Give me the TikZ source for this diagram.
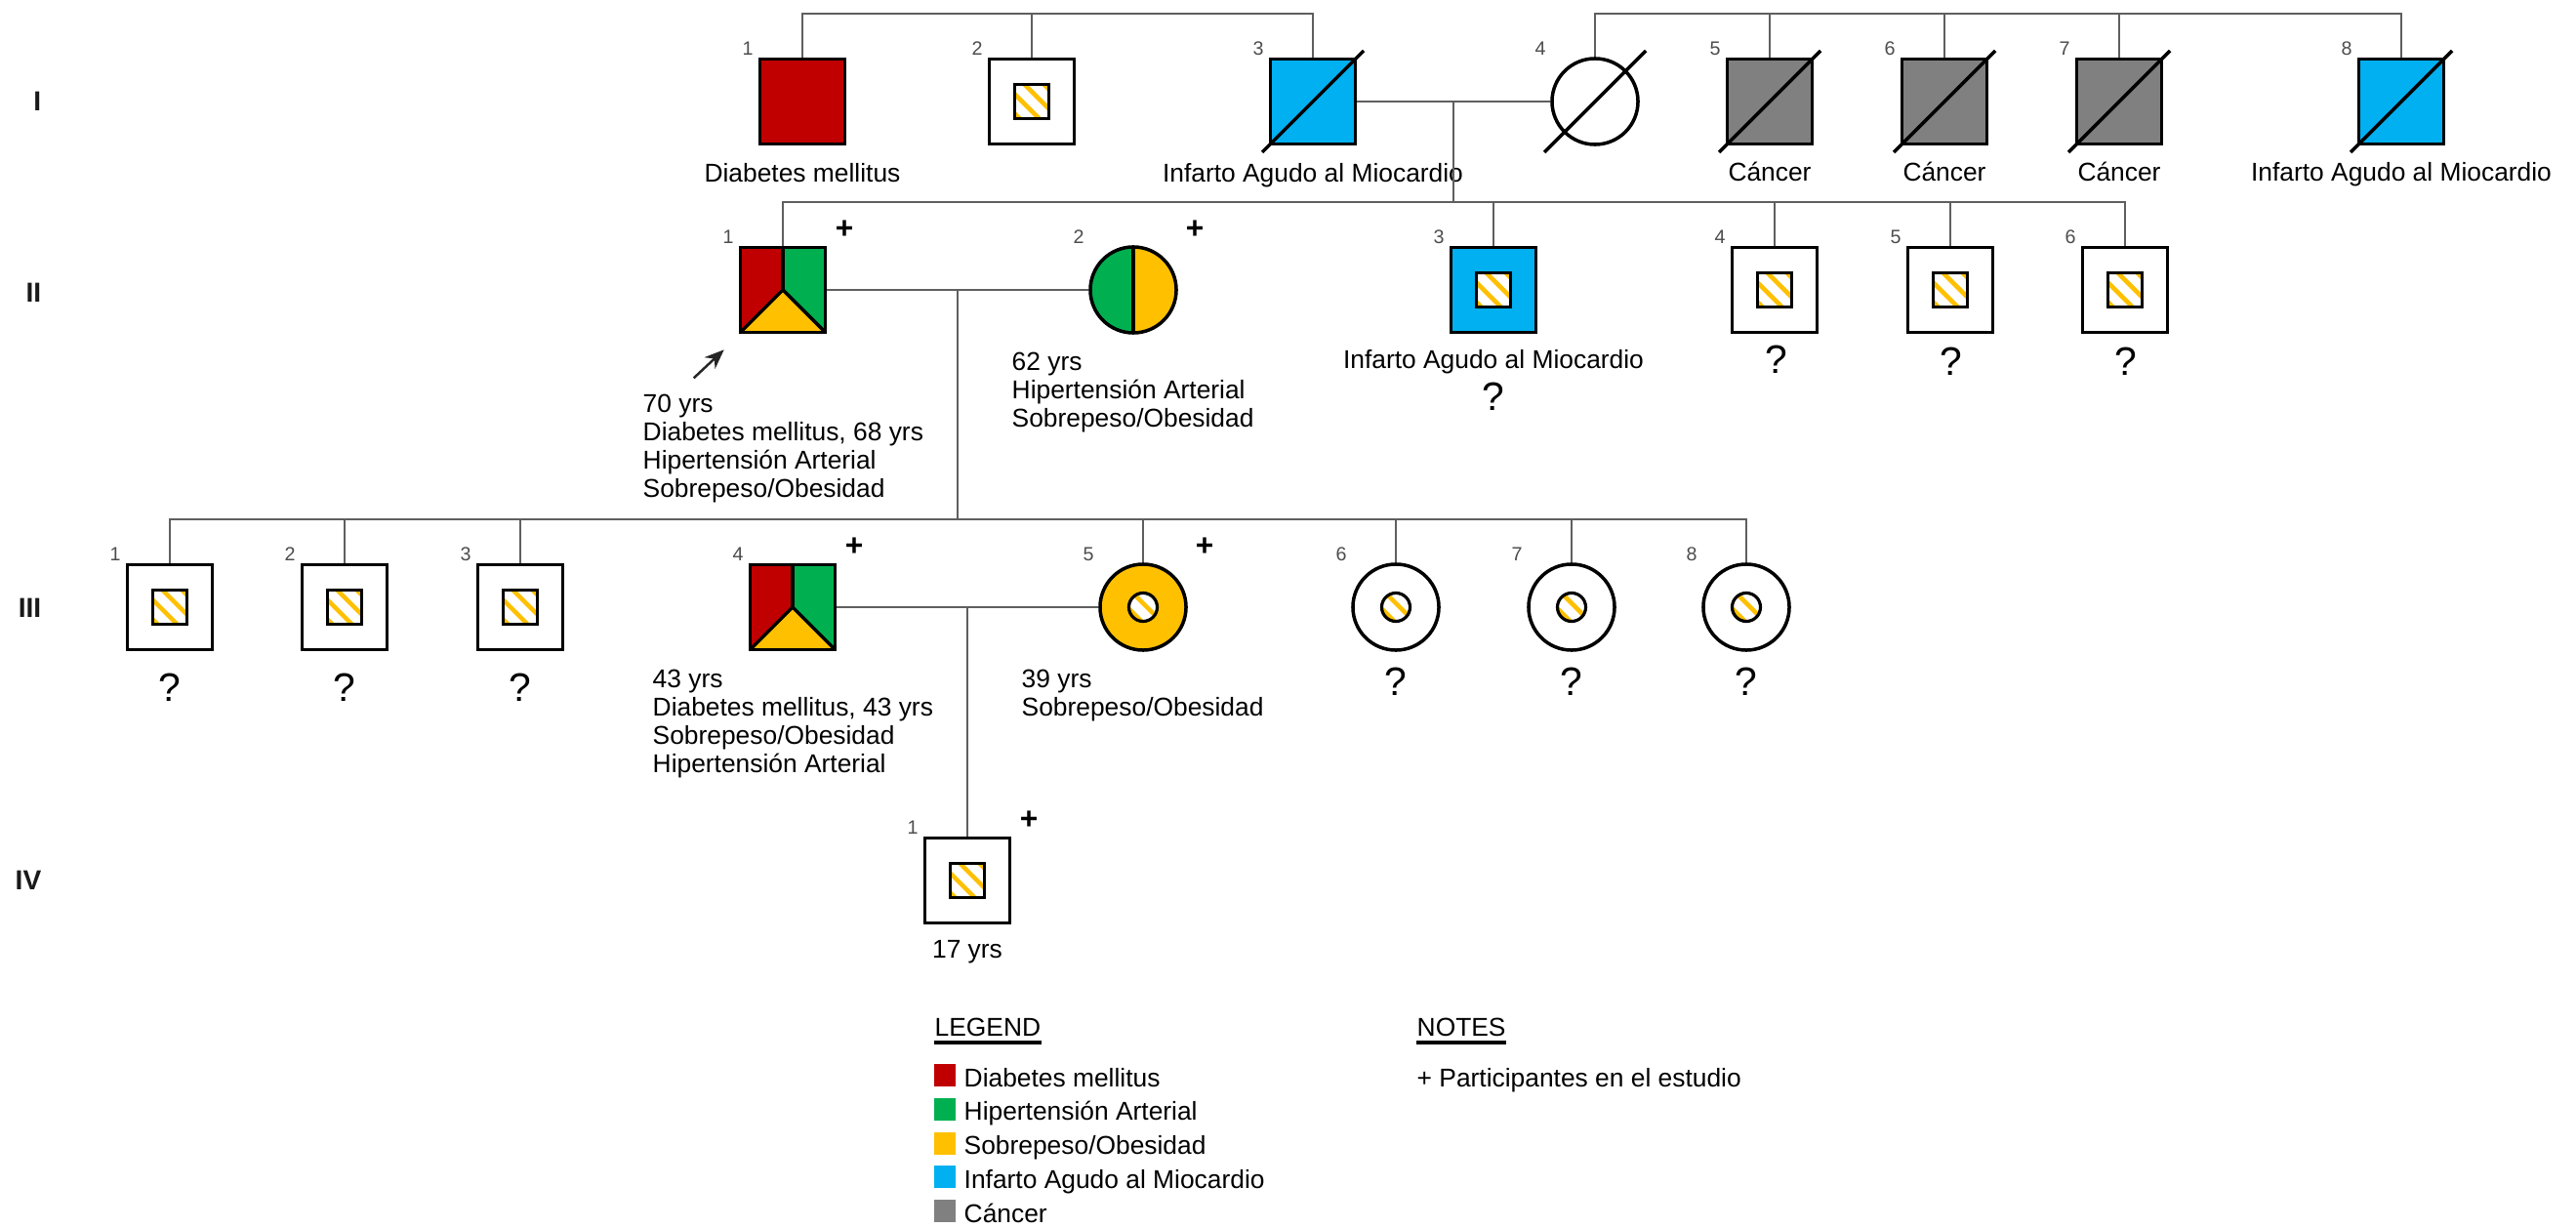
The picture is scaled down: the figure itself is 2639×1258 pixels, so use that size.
\documentclass[tikz,border=0pt]{standalone}
\usepackage{fontspec}
\setmainfont{Liberation Sans}
\usetikzlibrary{arrows.meta,calc}
\definecolor{cDM}{HTML}{C00000}
\definecolor{cHTA}{HTML}{00B050}
\definecolor{cSO}{HTML}{FFC000}
\definecolor{cIAM}{HTML}{00B0F0}
\definecolor{cCA}{HTML}{808080}
\definecolor{cLine}{HTML}{5F5F5F}
\definecolor{cNum}{HTML}{4D4D4D}
\tikzset{
  male/.style={rectangle, draw=black, line width=1pt, minimum size=0.87cm, inner sep=0pt, fill=white},
  female/.style={circle, draw=black, line width=1pt, minimum size=0.88cm, inner sep=0pt, fill=white},
  hatchsq/.style={rectangle, draw=black, line width=0.9pt, minimum size=0.35cm, inner sep=0pt, fill=white,
    path picture={\foreach \k in {-30,-10,10,30}{\draw[cSO, line width=1.3pt] ($(path picture bounding box.center)+(\k-30,-30)$) -- ++(60,60);}}},
  hatchci/.style={circle, draw=black, line width=0.9pt, minimum size=0.29cm, inner sep=0pt, fill=white,
    path picture={\foreach \k in {-16,4}{\draw[cSO, line width=1.3pt] ($(path picture bounding box.center)+(\k-30,-30)$) -- ++(60,60);}}},
  tripart/.style={male, path picture={
    \fill[cDM] (path picture bounding box.north west) rectangle (path picture bounding box.south);
    \fill[cHTA] (path picture bounding box.north) rectangle (path picture bounding box.south east);
    \fill[cSO] (path picture bounding box.south west) -- (path picture bounding box.center) -- (path picture bounding box.south east) -- cycle;
    \draw[line width=1pt] (path picture bounding box.north) -- (path picture bounding box.center);
    \draw[line width=1pt, line join=round] (path picture bounding box.south west) -- (path picture bounding box.center) -- (path picture bounding box.south east);}},
  halfci/.style={female, path picture={
    \fill[cHTA] (path picture bounding box.north west) rectangle (path picture bounding box.south);
    \fill[cSO] (path picture bounding box.north) rectangle (path picture bounding box.south east);
    \draw[line width=1pt] (path picture bounding box.north) -- (path picture bounding box.south);}},
  conn/.style={draw=cLine, line width=0.65pt},
  slash/.style={draw=black, line width=1pt},
  lbl/.style={font=\fontsize{7.5pt}{8.25pt}\selectfont, inner sep=0pt},
  num/.style={font=\fontsize{5.6pt}{6pt}\selectfont, text=cNum, inner sep=0pt},
  plus/.style={font=\fontsize{9pt}{10pt}\selectfont\bfseries, inner sep=0pt},
  qm/.style={font=\fontsize{11.6pt}{12pt}\selectfont, inner sep=0pt},
  gen/.style={font=\fontsize{8pt}{9pt}\selectfont\bfseries, text=black!90, inner sep=0pt, anchor=east},
  swatch/.style={rectangle, minimum width=0.22cm, minimum height=0.23cm, inner sep=0pt},
}
\begin{document}
\begin{tikzpicture}[x=0.01cm,y=-0.01cm]
\fill[white] (0,0) rectangle (2639,1258);
\useasboundingbox (0,0) rectangle (2639,1258);

% generation labels
\node[gen] (gI) at (43,104) {I};
\node[gen] (gII) at (43,300) {II};
\node[gen] (gIII) at (43,623) {III};
\node[gen] (gIV) at (43,902) {IV};

% ---------- Generation I ----------
\node[male, fill=cDM] (I1) at (822,104) {};
\node[male] (I2) at (1057,104) {};
\node[hatchsq] (I2c) at (1057,104) {};
\node[male, fill=cIAM] (I3) at (1345,104) {};
\node[female] (I4) at (1634,104) {};
\node[male, fill=cCA] (I5) at (1813,104) {};
\node[male, fill=cCA] (I6) at (1992,104) {};
\node[male, fill=cCA] (I7) at (2171,104) {};
\node[male, fill=cIAM] (I8) at (2460,104) {};
\foreach \n in {I3,I4,I5,I6,I7,I8}{\draw[slash] ($(\n)+(-52,52)$) -- ($(\n)+(52,-52)$);}
\foreach \n/\t in {I1/1,I2/2,I3/3,I4/4,I5/5,I6/6,I7/7,I8/8}{\node[num] (n\n) at ($(\n)+(-56,-54)$) {\t};}
\node[lbl, anchor=base] (tI1) at (822,187) {Diabetes mellitus};
\node[lbl, anchor=base] (tI3) at (1345,187) {Infarto Agudo al Miocardio};
\node[lbl, anchor=base] (tI5) at (1813,186) {Cáncer};
\node[lbl, anchor=base] (tI6) at (1992,186) {Cáncer};
\node[lbl, anchor=base] (tI7) at (2171,186) {Cáncer};
\node[lbl, anchor=base] (tI8) at (2460,186) {Infarto Agudo al Miocardio};

% ---------- Generation II ----------
\node[tripart] (II1) at (802,297) {};
\node[halfci] (II2) at (1161,297) {};
\node[male, fill=cIAM] (II3) at (1530,297) {};
\node[hatchsq] (II3c) at (1530,297) {};
\node[male] (II4) at (1818,297) {};
\node[hatchsq] (II4c) at (1818,297) {};
\node[male] (II5) at (1998,297) {};
\node[hatchsq] (II5c) at (1998,297) {};
\node[male] (II6) at (2177,297) {};
\node[hatchsq] (II6c) at (2177,297) {};
\foreach \n/\t in {II1/1,II2/2,II3/3,II4/4,II5/5,II6/6}{\node[num] (n\n) at ($(\n)+(-56,-54)$) {\t};}
\node[plus] (pII1) at ($(II1)+(63,-62)$) {+};
\node[plus] (pII2) at ($(II2)+(63,-62)$) {+};
\node[lbl, anchor=north west, align=left] (tII1) at (658,403) {70 yrs\\Diabetes mellitus, 68 yrs\\Hipertensión Arterial\\Sobrepeso/Obesidad};
\node[lbl, anchor=north west, align=left] (tII2) at (1036,360) {62 yrs\\Hipertensión Arterial\\Sobrepeso/Obesidad};
\node[lbl, anchor=base] (tII3) at (1530,378) {Infarto Agudo al Miocardio};
\node[qm, anchor=base] (qII3) at (1530,421) {?};
\node[qm, anchor=base] (qII4) at (1820,383) {?};
\node[qm, anchor=base] (qII5) at (1999,385) {?};
\node[qm, anchor=base] (qII6) at (2178,385) {?};
\coordinate (arrTip) at ($(II1.south west)+(-15,16)$);
\coordinate (arrTail) at ($(arrTip)+(-31,29)$);
\draw[-{Stealth[length=0.2cm,width=0.16cm]}, line width=0.7pt, black!85] (arrTail) -- (arrTip);

% ---------- Generation III ----------
\node[male] (III1) at (174,622) {};
\node[hatchsq] (III1c) at (174,622) {};
\node[male] (III2) at (353,622) {};
\node[hatchsq] (III2c) at (353,622) {};
\node[male] (III3) at (533,622) {};
\node[hatchsq] (III3c) at (533,622) {};
\node[tripart] (III4) at (812,622) {};
\node[female, fill=cSO] (III5) at (1171,622) {};
\node[hatchci] (III5c) at (1171,622) {};
\node[female] (III6) at (1430,622) {};
\node[hatchci] (III6c) at (1430,622) {};
\node[female] (III7) at (1610,622) {};
\node[hatchci] (III7c) at (1610,622) {};
\node[female] (III8) at (1789,622) {};
\node[hatchci] (III8c) at (1789,622) {};
\foreach \n/\t in {III1/1,III2/2,III3/3,III4/4,III5/5,III6/6,III7/7,III8/8}{\node[num] (n\n) at ($(\n)+(-56,-54)$) {\t};}
\node[plus] (pIII4) at ($(III4)+(63,-62)$) {+};
\node[plus] (pIII5) at ($(III5)+(63,-62)$) {+};
\foreach \n in {III1,III2,III3}{\node[qm, anchor=base] (q\n) at ($(\n |- 0,718)$) {?};}
\foreach \n in {III6,III7,III8}{\node[qm, anchor=base] (q\n) at ($(\n |- 0,712)$) {?};}
\node[lbl, anchor=north west, align=left] (tIII4) at (668,685) {43 yrs\\Diabetes mellitus, 43 yrs\\Sobrepeso/Obesidad\\Hipertensión Arterial};
\node[lbl, anchor=north west, align=left] (tIII5) at (1046,685) {39 yrs\\Sobrepeso/Obesidad};

% ---------- Generation IV ----------
\node[male] (IV1) at (991,902) {};
\node[hatchsq] (IV1c) at (991,902) {};
\node[num] (nIV1) at ($(IV1)+(-56,-54)$) {1};
\node[plus] (pIV1) at ($(IV1)+(63,-62)$) {+};
\node[lbl, anchor=base] (tIV1) at (991,981) {17 yrs};

% ---------- connectors ----------
\coordinate (yI) at (0,14);
\draw[conn] (I1.north) -- (I1.north |- yI) -- (I3.north |- yI) -- (I3.north);
\draw[conn] (I2.north) -- (I2.north |- yI);
\draw[conn] (I4.north) -- (I4.north |- yI) -- (I8.north |- yI) -- (I8.north);
\foreach \n in {I5,I6,I7}{\draw[conn] (\n.north) -- (\n.north |- yI);}
\draw[conn] (I3.east) -- (I4.west);
\coordinate (mI) at ($(I3.east)!.5!(I4.west)$);
\coordinate (yII) at (0,207);
\draw[conn] (mI) -- (mI |- yII);
\draw[conn] (II1.north) -- (II1.north |- yII) -- (II6.north |- yII) -- (II6.north);
\foreach \n in {II3,II4,II5}{\draw[conn] (\n.north) -- (\n.north |- yII);}
\draw[conn] (II1.east) -- (II2.west);
\coordinate (mII) at ($(II1.east)!.5!(II2.west)$);
\coordinate (yIII) at (0,532);
\draw[conn] (mII) -- (mII |- yIII);
\draw[conn] (III1.north) -- (III1.north |- yIII) -- (III8.north |- yIII) -- (III8.north);
\foreach \n in {III2,III3,III5,III6,III7}{\draw[conn] (\n.north) -- (\n.north |- yIII);}
\draw[conn] (III4.east) -- (III5.west);
\coordinate (mIII) at ($(III4.east)!.5!(III5.west)$);
\draw[conn] (mIII) -- (mIII |- IV1.north);

% ---------- legend ----------
\node[lbl, anchor=base west] (legT) at (957,1061) {LEGEND};
\draw[line width=0.9pt] ($(legT.base west)+(0,7)$) -- ($(legT.base east)+(0,7)$);
\node[lbl, anchor=base west] (notT) at (1451,1061) {NOTES};
\draw[line width=0.9pt] ($(notT.base west)+(0,7)$) -- ($(notT.base east)+(0,7)$);
\foreach \i/\c/\t in {0/cDM/{Diabetes mellitus},1/cHTA/{Hipertensión Arterial},2/cSO/{Sobrepeso/Obesidad},3/cIAM/{Infarto Agudo al Miocardio},4/cCA/{Cáncer}}{
  \node[swatch, fill=\c] (sw\i) at (968,{1101.5+34.8*\i}) {};
  \node[lbl, anchor=base west] (lt\i) at (987,{1113+34.8*\i}) {\t};
}
\node[lbl, anchor=base west] (note1) at (1451,1113) {+ Participantes en el estudio};
\end{tikzpicture}
\end{document}
